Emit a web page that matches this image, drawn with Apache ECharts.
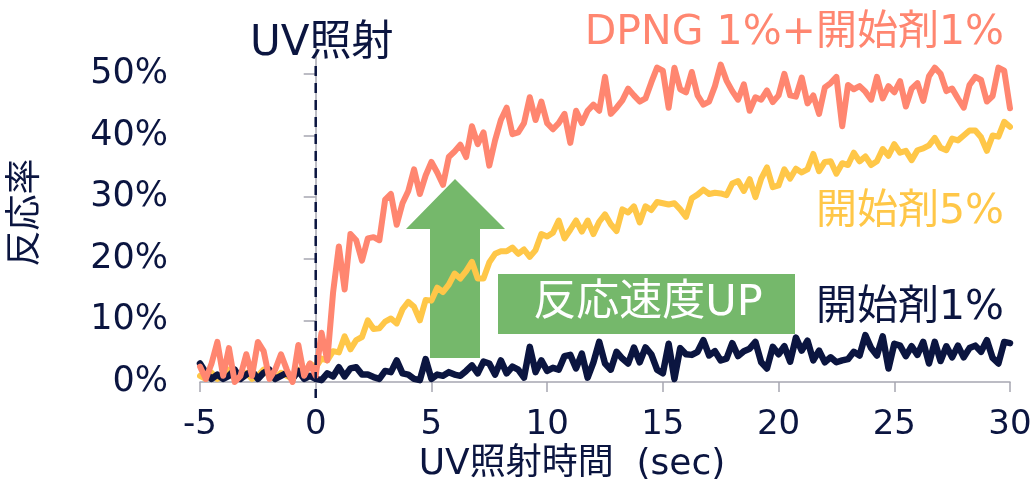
<!DOCTYPE html>
<html><head><meta charset="utf-8">
<script src="https://cdn.jsdelivr.net/npm/echarts@6/dist/echarts.min.js"></script>
<style>html,body{margin:0;padding:0;background:#fff}#c{width:1036px;height:481px}</style>
</head><body><div id="c"></div>
<script>
// sampling grid of the measurement (sec)
const T_START = -5, T_STEP = 0.25;

// 反応率 (%), 4 samples per second
const red = [
  2.5, 0.5, 3, 6.5,   1, 5.5, 0, 1,   4.5, 1, 6.5, 5,   0.5, 2, 4.5, 2,   0, 6, 1, 3,
  1.0, 8.0, 3.5, 14.5,
  22, 15, 24, 23,
  19.7, 23.3, 23.5, 23,
  29.6, 30.5, 25.5, 29,
  31, 34.5, 30.5, 33.5,
  35.7, 34, 32, 36.5,
  37.4, 38.5, 36.5, 41.5,
  38.6, 40.5, 35.1, 39.2,
  42.5, 44.5, 40.2, 40.5,
  42, 46.2, 42.5, 45.5,
  42, 41, 42, 43.5,
  38.8, 44, 42, 44,
  45, 44, 49.5, 43.5,
  44.5, 45.7, 47.6, 46.5,
  45.5, 46, 48.6, 51,
  50.5, 44.5, 51, 47.5,
  47, 50.3, 46.5, 45,
  45.5, 48, 51.5, 48.9,
  47.2, 45.8, 48.3, 44,
  46.2, 45.8, 47.3, 45.4,
  46.5, 50, 46.5, 46.3,
  49.4, 45.2, 46.5, 43.5,
  47.8, 48.5, 49.5, 41.5,
  48.2, 47.5, 48, 47.1,
  45.8, 49.5, 46, 48,
  47, 48.8, 44.7, 47.6,
  48.5, 45.6, 49.6, 51,
  50, 47.2, 47.6, 46,
  44.5, 48.2, 49.5, 49,
  45.5, 46.4, 51, 50.5,
  44.4
];
const yellow = [
  1, 0.5, 1.5, 0.5,   1, 2, 0.5, 1,   1.5, 0.5, 1, 2,   1, 0.5, 1.5, 1,   0.5, 2, 1, 3,
  2.4, 3.8, 3.5, 5,
  4.8, 7.4, 5.3, 6.8,
  7.3, 10, 8.6, 8.7,
  9.8, 10.3, 9.5, 11.8,
  13, 12.2, 10, 13.3,
  13.2, 15.3, 14.6, 15.8,
  17.6, 16.8, 18, 19.5,
  16.8, 16.8, 19.4, 20.8,
  21.2, 21.2, 21.8, 20.8,
  21.5, 20.3, 21.4, 24,
  23.6, 24.2, 26.2, 23.3,
  24.7, 26.2, 24.4, 26.2,
  24, 26, 27.2, 25.6,
  24.5, 28, 27.5, 28.5,
  25.9, 28.5, 27.9, 29.2,
  29, 28.8, 29, 28,
  26.8, 29.8, 30.4, 31.2,
  30.5, 30.7, 30.6, 30.3,
  32.2, 32.6, 31, 32.9,
  30, 33, 34.8, 31.6,
  31.9, 34.5, 33, 34.6,
  34, 34.5, 37, 34.2,
  35.7, 35.8, 33.8, 35.5,
  35.2, 37.2, 35.8, 36.6,
  35.2, 35.8, 37.8, 36.7,
  38.6, 37.2, 37.5, 36,
  37.6, 37.9, 38.4, 39.6,
  38, 37.6, 39.5, 39.2,
  40, 40.8, 40.8, 39.7,
  37.5, 40, 39.8, 42.2,
  41.4
];
const navy = [
  3, 1.5, 0.5, 1.2,   0.5, 1, 2, 0.5,   1.2, 1.8, 0.5, 1.5,   2, 0.5, 1, 1.5,   0.5, 1.8, 0.5, 1,
  0.5, 0.3, 1.4, 0.9,
  2.4, 0.9, 2.2, 2.4,
  1.2, 1.2, 0.8, 0.5,
  1.8, 1.6, 3.5, 1.4,
  1.2, 0.5, 0.3, 3.7,
  0.5, 1.2, 1, 1.6,
  1.2, 1, 1.8, 2.7,
  1.4, 3.3, 3, 1.2,
  3.5, 1.4, 2.5, 2,
  0.7, 5.7, 1.6, 3.5,
  1.8, 2.3, 2, 4.2,
  4.4, 2.2, 4.6, 0.7,
  3.2, 6.5, 3, 2,
  4.9, 3.8, 3, 5.6,
  3.2, 5.6, 4.5, 2,
  1.4, 6.2, 0.5, 5.5,
  4.5, 4.4, 4.9, 6.8,
  4.3, 5, 3.5, 3.8,
  6.3, 4.2, 5, 5.4,
  6.5, 3.2, 2.2, 5.7,
  4.5, 5.8, 3.3, 7.2,
  5.1, 6.7, 3.5, 5.1,
  3.2, 4, 3.2, 3.5,
  3.7, 4.9, 4.3, 7.6,
  5.5, 4.3, 7.4, 2.2,
  6.2, 5.9, 4.2, 5.8,
  4.4, 6.5, 3, 6.5,
  3.4, 5.8, 4, 5.9,
  4, 5.5, 5.9, 4.9,
  6.8, 3.9, 3, 6.5,
  6.3
];

const xTicks = [-5, 0, 5, 10, 15, 20, 25, 30];
const yTicks = [0, 10, 20, 30, 40, 50];
const seriesNames = ['DPNG 1%+開始剤1%', '開始剤5%', '開始剤1%'];
const xName = 'UV照射時間  (sec)';
const yName = '反応率';
const uvLabel = 'UV照射';
const boxLabel = '反応速度UP';

const C_RED = '#ff8670', C_YEL = '#ffc748', C_NAVY = '#0b1540', C_GREEN = '#75b86b', C_AXIS = '#a7a7b1';
const FONT = "'DejaVu Sans', 'Noto Sans CJK JP', sans-serif";

const pairs = arr => arr.map((v, i) => [T_START + i * T_STEP, v]);

const chart = echarts.init(document.getElementById('c'), null, {renderer: 'canvas'});
const lineSeries = (name, data, color, z, w) => ({
  name, type: 'line', data: pairs(data), showSymbol: false, symbol: 'none', clip: false, z,
  lineStyle: {color, width: w, join: 'round', cap: 'round'}, itemStyle: {color}, animation: false
});

chart.setOption({
  animation: false,
  grid: {left: 200, right: 26, top: 43, bottom: 99, containLabel: false, outerBoundsMode: 'none'},
  xAxis: {
    type: 'value', min: -5, max: 30, interval: 5,
    name: xName, nameLocation: 'middle', nameGap: 64,
    nameTextStyle: {fontFamily: FONT, fontSize: 36, color: C_NAVY, padding: [0, 66, 0, 0]},
    axisLine: {show: true, lineStyle: {color: C_AXIS, width: 1.5}},
    axisTick: {show: true, length: 10, lineStyle: {color: C_AXIS, width: 1.5}},
    axisLabel: {fontFamily: FONT, fontSize: 34, color: C_NAVY, margin: 26, customValues: xTicks,
      formatter: v => String(v)},
    splitLine: {show: false}
  },
  yAxis: {
    type: 'value', min: 0, max: 55,
    name: yName, nameLocation: 'middle', nameGap: 155, nameRotate: 90,
    nameTextStyle: {fontFamily: FONT, fontSize: 36, color: C_NAVY},
    axisLine: {show: true, lineStyle: {color: C_AXIS, width: 1.5}},
    axisTick: {show: true, length: 12, customValues: yTicks, lineStyle: {color: C_AXIS, width: 1.5}},
    axisLabel: {fontFamily: FONT, fontSize: 35, color: C_NAVY, margin: 32, customValues: yTicks,
      formatter: v => v + '%'},
    splitLine: {show: false}
  },
  series: [
    lineSeries(seriesNames[1], yellow, C_YEL, 3, 6),
    lineSeries(seriesNames[2], navy, C_NAVY, 4, 6.5),
    lineSeries(seriesNames[0], red, C_RED, 5, 6)
  ]
});

// annotations
const x0 = chart.convertToPixel({xAxisIndex: 0}, 0);
chart.setOption({
  graphic: [
    {type: 'line', z: 10, shape: {x1: x0, y1: 66, x2: x0, y2: 398},
      style: {stroke: C_NAVY, lineWidth: 2.5, lineDash: [10, 7]}},
    {type: 'text', z: 10, x: x0 + 6, y: 44,
      style: {text: uvLabel, font: '42px ' + FONT, fill: C_NAVY, align: 'center', verticalAlign: 'middle'}},
    {type: 'polygon', z: 1,
      shape: {points: [[430, 358], [430, 229], [406, 229], [455, 179], [505, 229], [480, 229], [480, 358]]},
      style: {fill: C_GREEN}},
    {type: 'rect', z: 1, shape: {x: 498, y: 274, width: 297, height: 60}, style: {fill: C_GREEN}},
    {type: 'text', z: 2, x: 648, y: 304,
      style: {text: boxLabel, font: '43px ' + FONT, fill: '#ffffff', align: 'center', verticalAlign: 'middle'}},
    {type: 'text', z: 10, x: 1004, y: 33,
      style: {text: seriesNames[0], font: '41px ' + FONT, fill: C_RED, align: 'right', verticalAlign: 'middle'}},
    {type: 'text', z: 10, x: 1004, y: 212,
      style: {text: seriesNames[1], font: '41px ' + FONT, fill: C_YEL, align: 'right', verticalAlign: 'middle'}},
    {type: 'text', z: 10, x: 1004, y: 308,
      style: {text: seriesNames[2], font: '41px ' + FONT, fill: C_NAVY, align: 'right', verticalAlign: 'middle'}}
  ]
});
</script></body></html>
